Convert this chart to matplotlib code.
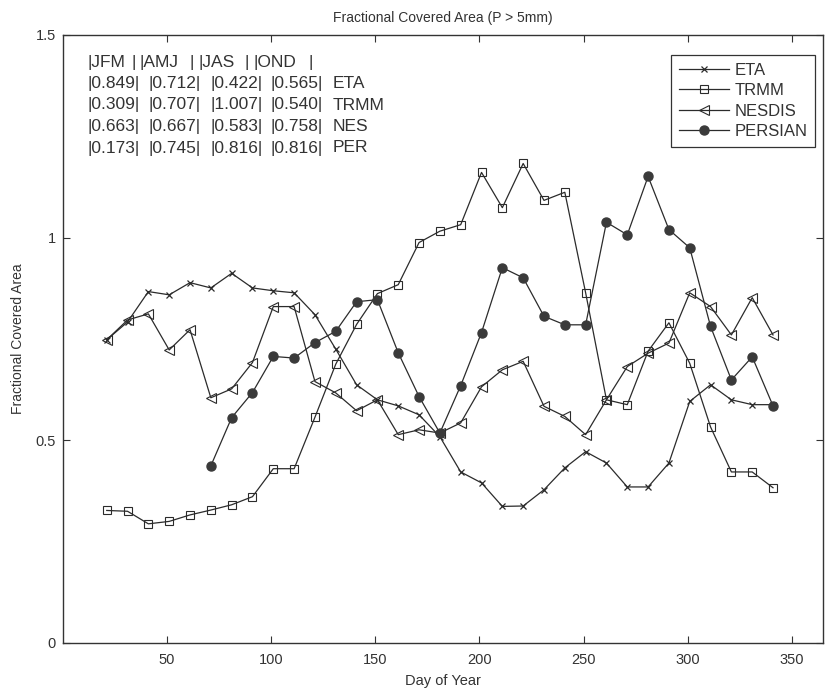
import matplotlib
matplotlib.use('Agg')
import matplotlib.pyplot as plt

plt.rcParams['font.family'] = ['Liberation Sans', 'DejaVu Sans']

# ---------------- data ----------------
days = [21, 31, 41, 51, 61, 71, 81, 91, 101, 111, 121, 131, 141, 151, 161, 171,
        181, 191, 201, 211, 221, 231, 241, 251, 261, 271, 281, 291, 301, 311,
        321, 331, 341]
eta = [0.748, 0.792, 0.867, 0.859, 0.889, 0.876, 0.912, 0.876, 0.869, 0.864,
       0.810, 0.725, 0.637, 0.600, 0.585, 0.563, 0.509, 0.422, 0.395, 0.337,
       0.338, 0.378, 0.432, 0.472, 0.444, 0.385, 0.385, 0.444, 0.596, 0.637,
       0.600, 0.588, 0.588]
trmm = [0.327, 0.325, 0.294, 0.300, 0.316, 0.328, 0.341, 0.361, 0.430, 0.430,
        0.557, 0.688, 0.786, 0.862, 0.884, 0.988, 1.016, 1.032, 1.161, 1.074,
        1.183, 1.092, 1.112, 0.864, 0.600, 0.588, 0.720, 0.790, 0.690, 0.533,
        0.422, 0.422, 0.383]
nesdis = [0.748, 0.797, 0.812, 0.723, 0.773, 0.605, 0.627, 0.692, 0.830, 0.830,
          0.645, 0.617, 0.573, 0.600, 0.514, 0.526, 0.518, 0.543, 0.632, 0.674,
          0.695, 0.584, 0.559, 0.514, 0.600, 0.682, 0.715, 0.740, 0.864, 0.830,
          0.760, 0.852, 0.760]
days_per = [71, 81, 91, 101, 111, 121, 131, 141, 151, 161, 171, 181, 191, 201,
            211, 221, 231, 241, 251, 261, 271, 281, 291, 301, 311, 321, 331, 341]
persian = [0.437, 0.556, 0.618, 0.707, 0.703, 0.741, 0.769, 0.842, 0.847, 0.716,
           0.608, 0.518, 0.635, 0.766, 0.926, 0.901, 0.806, 0.785, 0.785, 1.038,
           1.007, 1.151, 1.020, 0.975, 0.781, 0.649, 0.706, 0.585]

seasons = ['JFM', 'AMJ', 'JAS', 'OND']
row_names = ['ETA', 'TRMM', 'NES', 'PER']
jfm = [0.849, 0.309, 0.663, 0.173]
amj = [0.712, 0.707, 0.667, 0.745]
jas = [0.422, 1.007, 0.583, 0.816]
ond = [0.565, 0.540, 0.758, 0.816]

xticks = [50, 100, 150, 200, 250, 300, 350]
yticks = [0, 0.5, 1, 1.5]
ytick_labels = ['0', '0.5', '1', '1.5']

# ---------------- figure ----------------
W, H = 825, 690
fig = plt.figure(figsize=(W / 100, H / 100), dpi=100)
ax = fig.add_axes([63 / W, 1 - 643 / H, 760 / W, 608 / H])

c = '#2b2b2b'
ax.plot(days, eta, color=c, lw=0.9, marker='x', ms=5, mew=0.9, label='ETA')
ax.plot(days, trmm, color=c, lw=0.9, marker='s', ms=5.3, mfc='none', mec=c,
        mew=0.8, label='TRMM')
ax.plot(days, nesdis, color=c, lw=0.9, marker='<', ms=6.5, mfc='none', mec=c,
        mew=0.8, label='NESDIS')
ax.plot(days_per, persian, color=c, lw=0.9, marker='o', ms=6.5, mfc='#3a3a3a',
        mec='#3a3a3a', label='PERSIAN')

ax.set_xlim(0, 365)
ax.set_ylim(0, 1.5)
ax.set_xticks(xticks)
ax.set_xticklabels([str(t) for t in xticks])
ax.set_yticks(yticks)
ax.set_yticklabels(ytick_labels)
ax.tick_params(direction='in', top=True, right=True, length=5, width=0.8,
               labelsize=10.5, colors='#333333')
ax.tick_params(axis='x', pad=7)
ax.tick_params(axis='y', pad=5)
for s in ax.spines.values():
    s.set_color('#333333')
    s.set_linewidth(1.0)

fig.text(443 / W, 1 - 18 / H, 'Fractional Covered Area (P > 5mm)', ha='center',
         va='center', fontsize=10, color='#333333')
fig.text(443 / W, 1 - 681 / H, 'Day of Year', ha='center', va='center',
         fontsize=10.5, color='#333333')
fig.text(18 / W, 1 - 339 / H, 'Fractional Covered Area', ha='center',
         va='center', rotation=90, fontsize=10, color='#333333')

leg = ax.legend(loc='upper right', bbox_to_anchor=(0.9895, 0.967),
                borderaxespad=0, fontsize=12, handlelength=3.0,
                handletextpad=0.35, labelspacing=0.33, borderpad=0.45,
                fancybox=False, framealpha=1, edgecolor='#333333')
leg.get_frame().set_linewidth(0.9)
for t in leg.get_texts():
    t.set_color('#333333')

# season table text
def px(x, y):
    return (x - 63) / 760, (643 - y) / 608

fs = 12.5
tc = '#333333'
hdr_tokens = ['|' + seasons[0], '|', '|' + seasons[1], '|', '|' + seasons[2], '|',
              '|' + seasons[3], '|']
hdr_x = [87, 131, 139, 189, 198, 244, 253, 308]
for x, t in zip(hdr_x, hdr_tokens):
    ax.text(*px(x, 62), t, transform=ax.transAxes, ha='left', va='center',
            fontsize=fs, color=tc)
col_x = [87, 148, 210, 270]
row_y = [83.5, 105, 126.5, 148]
for i, name in enumerate(row_names):
    vals = [jfm[i], amj[i], jas[i], ond[i]]
    for x, v in zip(col_x, vals):
        ax.text(*px(x, row_y[i]), '|%.3f|' % v, transform=ax.transAxes,
                ha='left', va='center', fontsize=fs, color=tc)
    ax.text(*px(333, row_y[i]), name, transform=ax.transAxes, ha='left',
            va='center', fontsize=fs, color=tc)

fig.savefig('out.png', dpi=100)
